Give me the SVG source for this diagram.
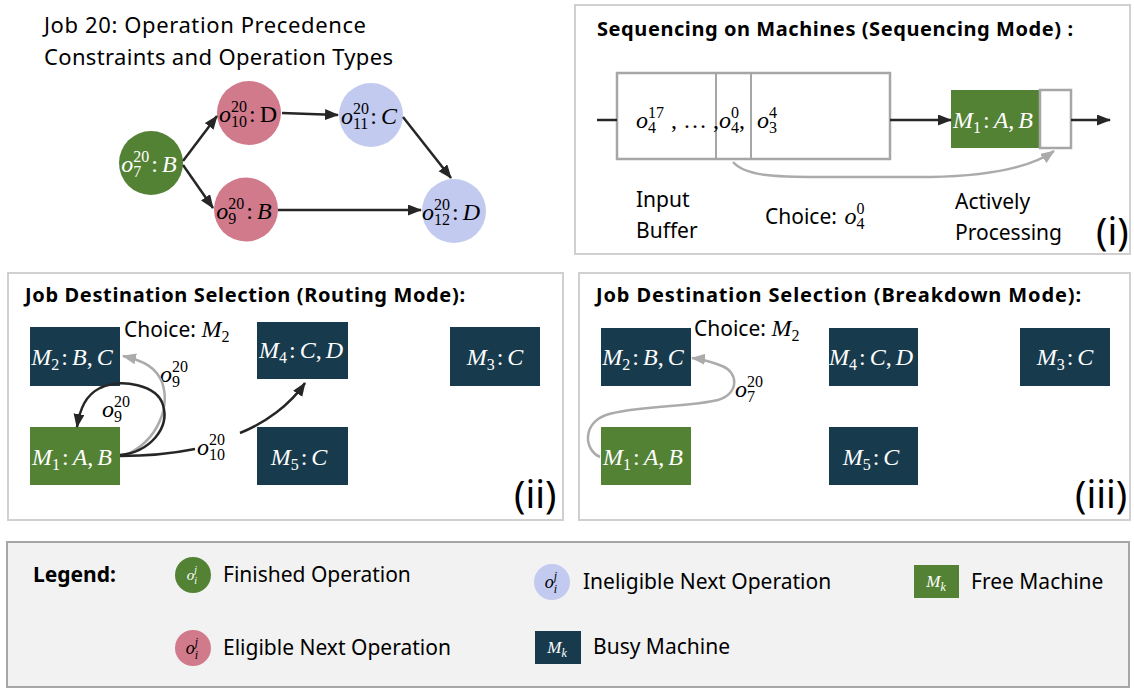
<svg xmlns="http://www.w3.org/2000/svg" width="1134" height="689" viewBox="0 0 1134 689">
  <defs>
    <style>
      .t{font-family:"Noto Sans","Liberation Sans",sans-serif;font-size:21px;fill:#000}
      .h{font-size:22px}
      .b{font-weight:bold;font-size:20px}
      .big{font-size:38px}
      .m{font-family:"Liberation Serif","DejaVu Serif",serif;font-size:24px;fill:#000}
      .i{font-style:italic}
      .s{font-size:16px}
      .w{fill:#fff}
      .panel{fill:#fff;stroke:#D0D0D0;stroke-width:2}
      .green{fill:#548235}
      .pink{fill:#D07A8C}
      .lav{fill:#C2CAF0}
      .navy{fill:#173B4D}
      .slot{fill:#fff;stroke:#A6A6A6;stroke-width:2.5}
      .arr{fill:none;stroke:#262626;stroke-width:2.5;marker-end:url(#ah)}
      .garr{fill:none;stroke:#ABABAB;stroke-width:2.5;marker-end:url(#ahg)}
      .line{fill:none;stroke:#262626;stroke-width:2.5}
    </style>
    <marker id="ah" markerUnits="userSpaceOnUse" markerWidth="15" markerHeight="12" refX="13" refY="5.5" orient="auto">
      <path d="M0,0 L14,5.5 L0,11 z" fill="#262626"/>
    </marker>
    <marker id="ahg" markerUnits="userSpaceOnUse" markerWidth="15" markerHeight="12" refX="13" refY="5.5" orient="auto">
      <path d="M0,0 L14,5.5 L0,11 z" fill="#ABABAB"/>
    </marker>
  </defs>

  <rect x="0" y="0" width="1134" height="689" fill="#fff"/>

  <!-- Job 20 precedence graph -->
  <text class="t h" x="44" y="33" textLength="322">Job 20: Operation Precedence</text>
  <text class="t h" x="44" y="65" textLength="349">Constraints and Operation Types</text>

  <g id="op-o7">
    <circle class="green" cx="151" cy="163" r="32"/>
    <text class="m w" x="149" y="172" text-anchor="middle"><tspan class="i">o</tspan><tspan class="s" dy="-10">20</tspan><tspan class="s" dx="-16" dy="15">7</tspan><tspan dx="10" dy="-5">:</tspan><tspan class="i" dx="4">B</tspan></text>
  </g>
  <g id="op-o10">
    <circle class="pink" cx="249" cy="113" r="32"/>
    <text class="m" x="248" y="122" text-anchor="middle"><tspan class="i">o</tspan><tspan class="s" dy="-10">20</tspan><tspan class="s" dx="-16" dy="15">10</tspan><tspan dx="2" dy="-5">:</tspan><tspan dx="4">D</tspan></text>
  </g>
  <g id="op-o11">
    <circle class="lav" cx="371" cy="115" r="32"/>
    <text class="m" x="369" y="124" text-anchor="middle"><tspan class="i">o</tspan><tspan class="s" dy="-10">20</tspan><tspan class="s" dx="-16" dy="15">11</tspan><tspan dx="2" dy="-5">:</tspan><tspan class="i" dx="4">C</tspan></text>
  </g>
  <g id="op-o9">
    <circle class="pink" cx="246" cy="209.5" r="32"/>
    <text class="m" x="244" y="219" text-anchor="middle"><tspan class="i">o</tspan><tspan class="s" dy="-10">20</tspan><tspan class="s" dx="-16" dy="15">9</tspan><tspan dx="10" dy="-5">:</tspan><tspan class="i" dx="4">B</tspan></text>
  </g>
  <g id="op-o12">
    <circle class="lav" cx="454" cy="211" r="32"/>
    <text class="m" x="451" y="220" text-anchor="middle"><tspan class="i">o</tspan><tspan class="s" dy="-10">20</tspan><tspan class="s" dx="-16" dy="15">12</tspan><tspan dx="2" dy="-5">:</tspan><tspan class="i" dx="4">D</tspan></text>
  </g>

  <!-- (i) sequencing mode -->
  <g id="panel-sequencing">
    <rect class="panel" x="575" y="5" width="555" height="249"/>
    <text class="t b" x="597" y="36" textLength="476">Sequencing on Machines (Sequencing Mode) :</text>
    <g id="input-buffer">
      <rect class="slot" x="617" y="73" width="273" height="86"/>
      <line x1="716" y1="73" x2="716" y2="159" stroke="#A6A6A6" stroke-width="2"/>
      <line x1="751" y1="73" x2="751" y2="159" stroke="#A6A6A6" stroke-width="2"/>
      <text class="m" x="636" y="128"><tspan class="i">o</tspan><tspan class="s" dy="-10">17</tspan><tspan class="s" dx="-16" dy="15">4</tspan><tspan x="671" dy="-5">, … ,</tspan><tspan class="i" x="719">o</tspan><tspan class="s" dy="-10">0</tspan><tspan class="s" dx="-8" dy="15">4</tspan><tspan dy="-5">,</tspan><tspan class="i" x="757">o</tspan><tspan class="s" dy="-10">4</tspan><tspan class="s" dx="-8" dy="15">3</tspan></text>
    </g>
    <g id="machine-m1-seq">
      <rect class="green" x="951" y="90" width="89" height="58"/>
      <rect class="slot" x="1040" y="90" width="31" height="58" stroke-width="2"/>
      <text class="m w" x="993" y="128" text-anchor="middle"><tspan class="i">M</tspan><tspan class="s" dy="5">1</tspan><tspan dy="-5" dx="2">:</tspan><tspan class="i" dx="4">A</tspan>,<tspan class="i" dx="4">B</tspan></text>
    </g>
    <text class="t" x="636" y="207">Input</text>
    <text class="t" x="636" y="238">Buffer</text>
    <text class="t" x="765" y="224">Choice: <tspan class="m i" dx="2">o</tspan><tspan class="m s" dy="-10">0</tspan><tspan class="m s" dx="-8" dy="15">4</tspan></text>
    <text class="t" x="955" y="209">Actively</text>
    <text class="t" x="955" y="240">Processing</text>
    <text class="t big" x="1096" y="245">(i)</text>
  </g>

  <!-- (ii) routing mode -->
  <g id="panel-routing">
    <rect class="panel" x="8" y="273" width="555" height="247"/>
    <text class="t b" x="25" y="302" textLength="440">Job Destination Selection (Routing Mode):</text>
    <g id="r-m2">
      <rect class="navy" x="30" y="327" width="90" height="59"/>
      <text class="m w" x="72" y="365" text-anchor="middle"><tspan class="i">M</tspan><tspan class="s" dy="5">2</tspan><tspan dy="-5" dx="2">:</tspan><tspan class="i" dx="4">B</tspan>,<tspan class="i" dx="4">C</tspan></text>
    </g>
    <g id="r-m1">
      <rect class="green" x="30" y="427" width="90" height="58"/>
      <text class="m w" x="72" y="465" text-anchor="middle"><tspan class="i">M</tspan><tspan class="s" dy="5">1</tspan><tspan dy="-5" dx="2">:</tspan><tspan class="i" dx="4">A</tspan>,<tspan class="i" dx="4">B</tspan></text>
    </g>
    <g id="r-m4">
      <rect class="navy" x="257" y="322" width="91" height="57"/>
      <text class="m w" x="301" y="358" text-anchor="middle"><tspan class="i">M</tspan><tspan class="s" dy="5">4</tspan><tspan dy="-5" dx="2">:</tspan><tspan class="i" dx="4">C</tspan>,<tspan class="i" dx="4">D</tspan></text>
    </g>
    <g id="r-m5">
      <rect class="navy" x="257" y="427" width="91" height="58"/>
      <text class="m w" x="299" y="465" text-anchor="middle"><tspan class="i">M</tspan><tspan class="s" dy="5">5</tspan><tspan dy="-5" dx="2">:</tspan><tspan class="i" dx="4">C</tspan></text>
    </g>
    <g id="r-m3">
      <rect class="navy" x="450" y="327" width="90" height="59"/>
      <text class="m w" x="495" y="365" text-anchor="middle"><tspan class="i">M</tspan><tspan class="s" dy="5">3</tspan><tspan dy="-5" dx="2">:</tspan><tspan class="i" dx="4">C</tspan></text>
    </g>
    <text class="t" x="124" y="337">Choice: <tspan class="m i">M</tspan><tspan class="m s" dy="5">2</tspan></text>
    <text class="m" x="160" y="382"><tspan class="i">o</tspan><tspan class="s" dy="-10">20</tspan><tspan class="s" dx="-16" dy="15">9</tspan></text>
    <text class="m" x="102" y="417"><tspan class="i">o</tspan><tspan class="s" dy="-10">20</tspan><tspan class="s" dx="-16" dy="15">9</tspan></text>
    <text class="m" x="197" y="455"><tspan class="i">o</tspan><tspan class="s" dy="-10">20</tspan><tspan class="s" dx="-16" dy="15">10</tspan></text>
    <text class="t big" x="514" y="508">(ii)</text>
  </g>

  <!-- (iii) breakdown mode -->
  <g id="panel-breakdown">
    <rect class="panel" x="579" y="273" width="551" height="247"/>
    <text class="t b" x="596" y="302" textLength="485">Job Destination Selection (Breakdown Mode):</text>
    <g id="b-m2">
      <rect class="navy" x="601" y="328" width="90" height="58"/>
      <text class="m w" x="643" y="365" text-anchor="middle"><tspan class="i">M</tspan><tspan class="s" dy="5">2</tspan><tspan dy="-5" dx="2">:</tspan><tspan class="i" dx="4">B</tspan>,<tspan class="i" dx="4">C</tspan></text>
    </g>
    <g id="b-m1">
      <rect class="green" x="601" y="427" width="90" height="58"/>
      <text class="m w" x="643" y="465" text-anchor="middle"><tspan class="i">M</tspan><tspan class="s" dy="5">1</tspan><tspan dy="-5" dx="2">:</tspan><tspan class="i" dx="4">A</tspan>,<tspan class="i" dx="4">B</tspan></text>
    </g>
    <g id="b-m4">
      <rect class="navy" x="829" y="328" width="89" height="58"/>
      <text class="m w" x="871" y="365" text-anchor="middle"><tspan class="i">M</tspan><tspan class="s" dy="5">4</tspan><tspan dy="-5" dx="2">:</tspan><tspan class="i" dx="4">C</tspan>,<tspan class="i" dx="4">D</tspan></text>
    </g>
    <g id="b-m5">
      <rect class="navy" x="829" y="427" width="89" height="58"/>
      <text class="m w" x="871" y="465" text-anchor="middle"><tspan class="i">M</tspan><tspan class="s" dy="5">5</tspan><tspan dy="-5" dx="2">:</tspan><tspan class="i" dx="4">C</tspan></text>
    </g>
    <g id="b-m3">
      <rect class="navy" x="1020" y="328" width="90" height="58"/>
      <text class="m w" x="1065" y="365" text-anchor="middle"><tspan class="i">M</tspan><tspan class="s" dy="5">3</tspan><tspan dy="-5" dx="2">:</tspan><tspan class="i" dx="4">C</tspan></text>
    </g>
    <text class="t" x="694" y="336">Choice: <tspan class="m i">M</tspan><tspan class="m s" dy="5">2</tspan></text>
    <text class="m" x="735" y="397"><tspan class="i">o</tspan><tspan class="s" dy="-10">20</tspan><tspan class="s" dx="-16" dy="15">7</tspan></text>
    <text class="t big" x="1075" y="508">(iii)</text>
  </g>

  <!-- connectors, drawn above the panels -->
  <g id="connectors">
    <path class="arr" d="M183,161 L217,116"/>
    <path class="arr" d="M183,165 L213,208"/>
    <path class="arr" d="M282,113 L338,115"/>
    <path class="arr" d="M403,117 L451,178"/>
    <path class="arr" d="M278,210 L421,210"/>

    <!-- sequencing mode -->
    <path class="line" d="M597,120 L617,120"/>
    <path class="arr" d="M890,120 L951,120"/>
    <path class="arr" d="M1071,120 L1110,120"/>
    <path class="garr" d="M733,162 C745,176 775,177 820,177 L930,177 C990,176 1030,168 1054,151"/>

    <!-- routing mode -->
    <path class="garr" d="M124,456 C160,440 170,405 162,382 C156,368 145,361 123,356"/>
    <path class="arr" d="M120,455 C150,452 170,428 163,405 C157,385 122,378 100,388 C86,395 80,408 77,427"/>
    <path class="line" d="M120,456 C150,456 175,453 195,449"/>
    <path class="arr" d="M240,433 C265,423 290,405 305,383"/>

    <!-- breakdown mode -->
    <path class="garr" d="M600,457 C584,450 582,424 606,415 C632,406 690,407 718,400 C740,393 738,372 722,366 C712,362 702,359 692,358"/>
  </g>

  <!-- legend -->
  <g id="legend">
    <rect x="7" y="542" width="1122" height="145" fill="#F2F2F2" stroke="#A6A6A6" stroke-width="2"/>
    <text class="t b" x="33" y="582" style="font-size:21px">Legend:</text>
    <g id="legend-finished">
      <circle class="green" cx="193" cy="575" r="18"/>
      <text class="m w i" x="192" y="580" text-anchor="middle" style="font-size:15px">o<tspan style="font-size:10px" dy="-7">j</tspan><tspan style="font-size:10px" dx="-3" dy="11">i</tspan></text>
      <text class="t" x="223" y="582">Finished Operation</text>
    </g>
    <g id="legend-eligible">
      <circle class="pink" cx="193" cy="648" r="18"/>
      <text class="m i" x="192" y="654" text-anchor="middle" style="font-size:18px">o<tspan style="font-size:12px" dy="-8">j</tspan><tspan style="font-size:12px" dx="-3.5" dy="13">i</tspan></text>
      <text class="t" x="223" y="655">Eligible Next Operation</text>
    </g>
    <g id="legend-ineligible">
      <circle class="lav" cx="552" cy="582" r="18"/>
      <text class="m i" x="551" y="588" text-anchor="middle" style="font-size:18px">o<tspan style="font-size:12px" dy="-8">j</tspan><tspan style="font-size:12px" dx="-3.5" dy="13">i</tspan></text>
      <text class="t" x="583" y="589">Ineligible Next Operation</text>
    </g>
    <g id="legend-free">
      <rect class="green" x="914" y="565" width="45" height="33"/>
      <text class="m w i" x="936" y="587" text-anchor="middle" style="font-size:17px">M<tspan style="font-size:12px" dy="4">k</tspan></text>
      <text class="t" x="971" y="589">Free Machine</text>
    </g>
    <g id="legend-busy">
      <rect class="navy" x="535" y="631" width="46" height="33"/>
      <text class="m w i" x="557" y="653" text-anchor="middle" style="font-size:17px">M<tspan style="font-size:12px" dy="4">k</tspan></text>
      <text class="t" x="593" y="654">Busy Machine</text>
    </g>
  </g>
</svg>
